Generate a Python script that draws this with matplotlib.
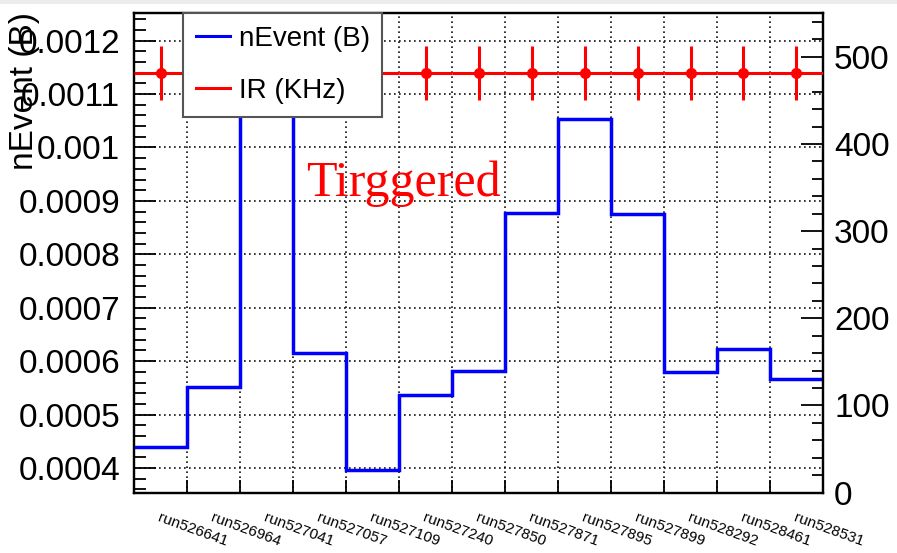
import matplotlib
matplotlib.use('Agg')
import matplotlib.pyplot as plt
from matplotlib.lines import Line2D
from matplotlib.patches import Rectangle
from matplotlib.ticker import MultipleLocator, FuncFormatter, FixedLocator
import numpy as np

plt.rcParams['font.family'] = ['Liberation Sans', 'DejaVu Sans']

# run labels (one bin per run)
runs = ['run526641', 'run526964', 'run527041', 'run527057', 'run527109',
        'run527240', 'run527850', 'run527871', 'run527895', 'run527899',
        'run528292', 'run528461', 'run528531']
# nEvent (B) per run, left axis (third bin goes off the top of the frame)
nevent = [0.000439, 0.000552, 0.00130, 0.000616, 0.000396, 0.000536, 0.000581,
          0.000878, 0.001054, 0.000876, 0.000580, 0.000622, 0.000566]
# interaction rate (KHz), right axis
ir = [481, 481, 481, 481, 481, 481, 481, 481, 481, 481, 481, 481, 481]
ir_err = [31, 31, 31, 31, 31, 31, 31, 31, 31, 31, 31, 31, 31]

edges = np.arange(len(runs) + 1)
centers = edges[:-1] + 0.5

fig = plt.figure(figsize=(8.97, 5.53), dpi=100)
ax = fig.add_axes([0.1494, 0.1092, 0.7681, 0.8667])
ax2 = ax.twinx()

# blue histogram
ax.stairs(nevent, edges, baseline=None, color='blue', linewidth=2.5, zorder=3)
ax.set_xlim(0, len(runs))
ax.set_ylim(0.000354, 0.001251)

# grid
ax.grid(True, which='major', color='#111111', linestyle=(0, (1, 2)), linewidth=1.2)

# left axis
ax.yaxis.set_major_locator(MultipleLocator(0.0001))
ax.yaxis.set_minor_locator(MultipleLocator(0.00002))
ax.yaxis.set_major_formatter(FuncFormatter(lambda v, p: f'{v:.4f}'.rstrip('0')))
ax.tick_params(axis='y', which='major', direction='in', length=16, width=1.3,
               labelsize=24, pad=10, right=False)
ax.tick_params(axis='y', which='minor', direction='in', length=8.5, width=1.3, right=False)

# bottom axis: ticks at bin edges, labels at bin centers
ax.xaxis.set_major_locator(FixedLocator(edges[1:-1]))
ax.xaxis.set_major_formatter(FuncFormatter(lambda v, p: ''))
ax.xaxis.set_minor_locator(FixedLocator(centers))
ax.set_xticklabels(runs, minor=True)
ax.tick_params(axis='x', which='major', direction='in', length=9.5, width=1.3, top=False)
ax.tick_params(axis='x', which='minor', length=0, labelsize=11, pad=13)
for lab in ax.get_xticklabels(minor=True):
    lab.set_rotation(-20)
    lab.set_ha('left')
    lab.set_va('top')
    lab.set_rotation_mode('anchor')

for s in ax.spines.values():
    s.set_linewidth(1.6)
for s in ax2.spines.values():
    s.set_linewidth(1.6)

# red IR points on right axis
ax2.errorbar(centers, ir, yerr=ir_err, xerr=0.5, fmt='o', color='red',
             markersize=7, linewidth=2.2, elinewidth=2.2, capsize=0, zorder=3)
ax2.set_ylim(0, 550)
ax2.yaxis.set_major_locator(MultipleLocator(100))
ax2.yaxis.set_minor_locator(MultipleLocator(20))
ax2.tick_params(axis='y', which='major', direction='in', length=16, width=1.3,
                labelsize=24, pad=8)
ax2.tick_params(axis='y', which='minor', direction='in', length=8, width=1.3)

# text in the plot
ax.text(3.24, 0.000909, 'Tirggered', color='red', fontsize=36,
        family=['Liberation Serif', 'DejaVu Serif'], va='baseline', ha='left', zorder=4)

# y label on the left, aligned at the top of the axis
fig.text(24 / 897, 1 - 12 / 553, 'nEvent (B)', rotation=90, fontsize=24,
         ha='center', va='top')

# legend
handles = [Line2D([], [], color='blue', linewidth=2.2),
           Line2D([], [], color='red', linewidth=2.2)]
leg = ax2.legend(handles, ['nEvent (B)', 'IR (KHz)'], loc='upper left',
                 bbox_to_anchor=(183 / 897, 1 - 13.3 / 553),
                 bbox_transform=fig.transFigure, borderaxespad=0, fontsize=20,
                 handlelength=1.25, handletextpad=0.3, borderpad=0.45,
                 labelspacing=0.95, fancybox=False, framealpha=1,
                 edgecolor='#555555')
leg.get_frame().set_linewidth(1.5)
leg.set_zorder(10)

# light strip at the top edge of the screenshot
fig.patches.append(Rectangle((0, 1 - 4 / 553), 1, 4 / 553, transform=fig.transFigure,
                             facecolor='#ececec', edgecolor='none', zorder=0))

fig.savefig('out.png', dpi=100)
